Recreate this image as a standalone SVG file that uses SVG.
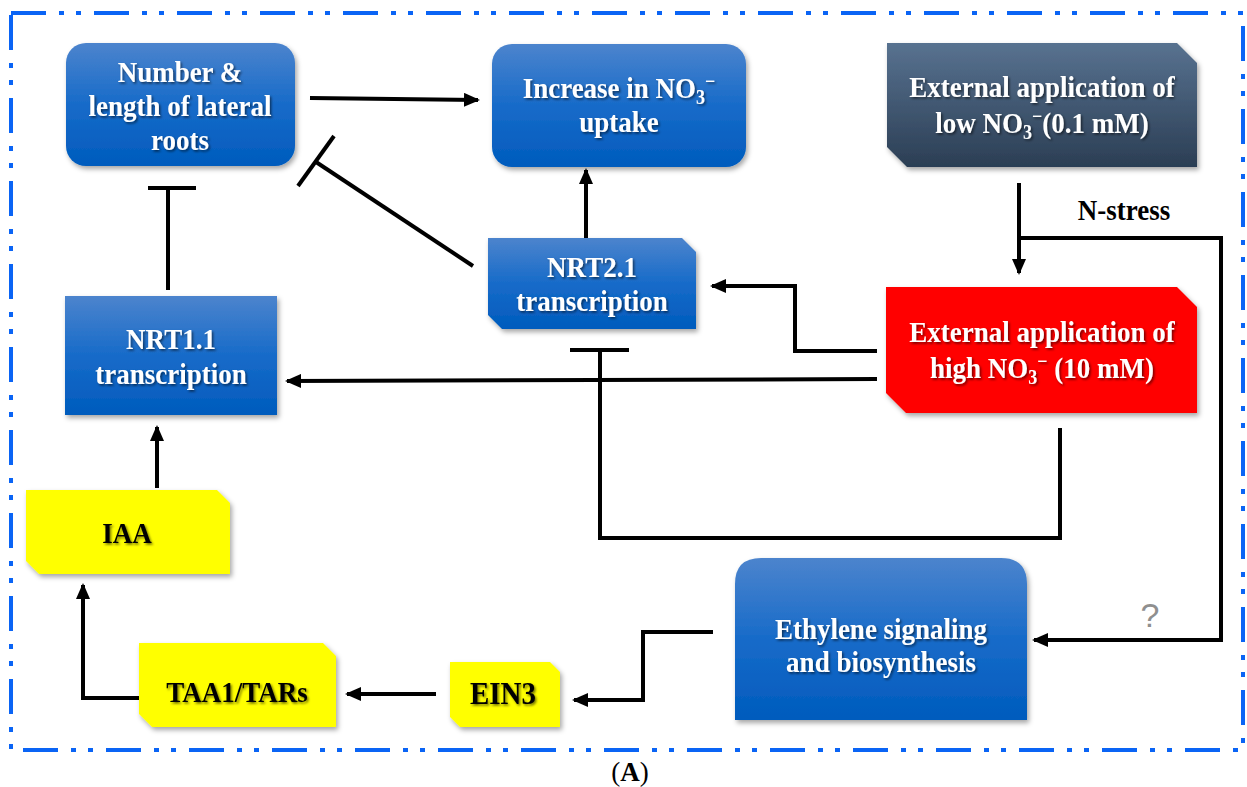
<svg xmlns="http://www.w3.org/2000/svg" width="1247" height="787" viewBox="0 0 1247 787">
  <defs>
    <linearGradient id="blueFill" x1="0" y1="0" x2="0" y2="1">
      <stop offset="0" stop-color="#4c84cd"/>
      <stop offset="0.5" stop-color="#176bc9"/>
      <stop offset="1" stop-color="#005bbd"/>
    </linearGradient>
    <linearGradient id="slateFill" x1="0" y1="0" x2="0" y2="1">
      <stop offset="0" stop-color="#587290"/>
      <stop offset="1" stop-color="#2b3e54"/>
    </linearGradient>
    <filter id="boxShadow" x="-10%" y="-10%" width="125%" height="130%">
      <feDropShadow dx="2" dy="3" stdDeviation="2.5" flood-color="#000" flood-opacity="0.35"/>
    </filter>
    <filter id="textShadow" x="-5%" y="-20%" width="110%" height="150%">
      <feDropShadow dx="1.5" dy="1.5" stdDeviation="1" flood-color="#000" flood-opacity="0.55"/>
    </filter>
    <marker id="arrow" markerUnits="userSpaceOnUse" markerWidth="16" markerHeight="14" refX="14" refY="7" orient="auto">
      <path d="M0,0 L16,7 L0,14 Z" fill="#000"/>
    </marker>
  </defs>
  <style>
    .lbl { font-family: "Liberation Serif", "Times New Roman", serif; font-weight: bold; font-size: 27px; text-anchor: middle; }
    .white { fill: #fff; filter: url(#textShadow); }
    .dark { fill: #000; filter: url(#textShadow); }
    .link { fill: none; stroke: #000; stroke-width: 4; stroke-linejoin: miter; }
    .bar { stroke: #000; stroke-width: 4; }
    .sub { font-size: 18px; }
  </style>

  <rect width="1247" height="787" fill="#fff"/>

  <!-- dash-dot-dot frame -->
  <rect x="11" y="13" width="1232" height="737" fill="none" stroke="#0a64f5" stroke-width="4" stroke-dasharray="35 13 5 12 5 13"/>

  <!-- connectors -->
  <g id="connectors">
    <!-- lateral roots -> NO3 uptake -->
    <line class="link" x1="310" y1="98" x2="478" y2="100" marker-end="url(#arrow)"/>
    <!-- NRT2.1 -> NO3 uptake -->
    <line class="link" x1="586" y1="238" x2="586" y2="170" marker-end="url(#arrow)"/>
    <!-- NRT2.1 -| lateral roots -->
    <line class="link" x1="473" y1="266" x2="316" y2="162"/>
    <line class="bar" x1="298" y1="186" x2="334" y2="136"/>
    <!-- NRT1.1 -| lateral roots -->
    <line class="link" x1="168" y1="290" x2="168" y2="188"/>
    <line class="bar" x1="148" y1="188" x2="196" y2="188"/>
    <!-- low NO3 -> high NO3 -->
    <line class="link" x1="1019" y1="183" x2="1019" y2="273" marker-end="url(#arrow)"/>
    <!-- N-stress branch -> ethylene -->
    <polyline class="link" points="1019,238 1221,238 1221,640 1034,640" marker-end="url(#arrow)"/>
    <!-- high NO3 -> NRT2.1 -->
    <polyline class="link" points="877,351 795,351 795,286 712,286" marker-end="url(#arrow)"/>
    <!-- high NO3 -> NRT1.1 -->
    <line class="link" x1="877" y1="379" x2="287" y2="381" marker-end="url(#arrow)"/>
    <!-- high NO3 -| NRT2.1 -->
    <polyline class="link" points="1060,428 1060,538 600,538 600,350"/>
    <line class="bar" x1="570" y1="350" x2="629" y2="350"/>
    <!-- ethylene -> EIN3 -->
    <polyline class="link" points="713,632 643,632 643,700 574,700" marker-end="url(#arrow)"/>
    <!-- EIN3 -> TAA1/TARs -->
    <line class="link" x1="436" y1="694" x2="347" y2="694" marker-end="url(#arrow)"/>
    <!-- TAA1/TARs -> IAA -->
    <polyline class="link" points="139,698 83,698 83,585" marker-end="url(#arrow)"/>
    <!-- IAA -> NRT1.1 -->
    <line class="link" x1="157" y1="488" x2="157" y2="427" marker-end="url(#arrow)"/>
    <text class="lbl" fill="#000" transform="translate(1124 220) scale(1 1.12)">N-stress</text>
    <text x="1150" y="627" font-family="Liberation Sans, Arial, sans-serif" font-size="34" fill="#8f8f8f" text-anchor="middle">?</text>
  </g>

  <g id="node-lateral-roots">
    <rect x="66" y="43" width="229" height="123" rx="20" fill="url(#blueFill)" filter="url(#boxShadow)"/>
    <text class="lbl white" transform="translate(180 82) scale(1 1.12)">Number &amp;</text>
    <text class="lbl white" transform="translate(180 116) scale(1 1.12)">length of lateral</text>
    <text class="lbl white" transform="translate(180 150) scale(1 1.12)">roots</text>
  </g>

  <g id="node-uptake">
    <rect x="492" y="44" width="254" height="123" rx="20" fill="url(#blueFill)" filter="url(#boxShadow)"/>
    <text class="lbl white" transform="translate(619 98) scale(1 1.12)">Increase in NO<tspan class="sub" dy="5">3</tspan><tspan class="sub" dy="-14">−</tspan></text>
    <text class="lbl white" transform="translate(619 132) scale(1 1.12)">uptake</text>
  </g>

  <g id="node-low-no3">
    <path d="M887,43 H1177 L1197,63 V167 H907 L887,147 Z" fill="url(#slateFill)" filter="url(#boxShadow)"/>
    <text class="lbl white" transform="translate(1042 97) scale(1 1.12)">External application of</text>
    <text class="lbl white" transform="translate(1042 133) scale(1 1.12)">low NO<tspan class="sub" dy="5">3</tspan><tspan class="sub" dy="-14">−</tspan><tspan dy="9">(0.1 mM)</tspan></text>
  </g>

  <g id="node-nrt21">
    <path d="M488,238 H682 L696,252 V329 H502 L488,315 Z" fill="url(#blueFill)" filter="url(#boxShadow)"/>
    <text class="lbl white" transform="translate(592 277) scale(1 1.12)">NRT2.1</text>
    <text class="lbl white" transform="translate(592 311) scale(1 1.12)">transcription</text>
  </g>

  <g id="node-high-no3">
    <path d="M886,287 H1177 L1197,307 V413 H906 L886,393 Z" fill="#ff0000" filter="url(#boxShadow)"/>
    <text class="lbl white" transform="translate(1042 342) scale(1 1.12)">External application of</text>
    <text class="lbl white" transform="translate(1042 378) scale(1 1.12)">high NO<tspan class="sub" dy="5">3</tspan><tspan class="sub" dy="-14">−</tspan><tspan dy="9"> (10 mM)</tspan></text>
  </g>

  <g id="node-nrt11">
    <rect x="65" y="296" width="212" height="119" fill="url(#blueFill)" filter="url(#boxShadow)"/>
    <text class="lbl white" transform="translate(171 349) scale(1 1.12)">NRT1.1</text>
    <text class="lbl white" transform="translate(171 384) scale(1 1.12)">transcription</text>
  </g>

  <g id="node-iaa">
    <path d="M26,490 H217 L230,503 V574 H39 L26,561 Z" fill="#ffff00" filter="url(#boxShadow)"/>
    <text class="lbl dark" transform="translate(127 543) scale(1 1.12)">IAA</text>
  </g>

  <g id="node-taa1">
    <path d="M139,643 H323 L336,656 V727 H152 L139,714 Z" fill="#ffff00" filter="url(#boxShadow)"/>
    <text class="lbl dark" transform="translate(237 702) scale(1 1.12)">TAA1/TARs</text>
  </g>

  <g id="node-ein3">
    <path d="M450,662 H550 L560,672 V727 H460 L450,717 Z" fill="#ffff00" filter="url(#boxShadow)"/>
    <text class="lbl dark" transform="translate(503 704) scale(1 1.12)" style="font-size:29px">EIN3</text>
  </g>

  <g id="node-ethylene">
    <path d="M735,720 V584 Q735,558 761,558 H1001 Q1027,558 1027,584 V720 Z" fill="url(#blueFill)" filter="url(#boxShadow)"/>
    <text class="lbl white" transform="translate(881 639) scale(1 1.12)">Ethylene signaling</text>
    <text class="lbl white" transform="translate(881 672) scale(1 1.12)">and biosynthesis</text>
  </g>

  <text x="630" y="781" font-family="Liberation Serif, Times New Roman, serif" font-size="27" fill="#000" text-anchor="middle">(<tspan font-weight="bold">A</tspan>)</text>
</svg>
